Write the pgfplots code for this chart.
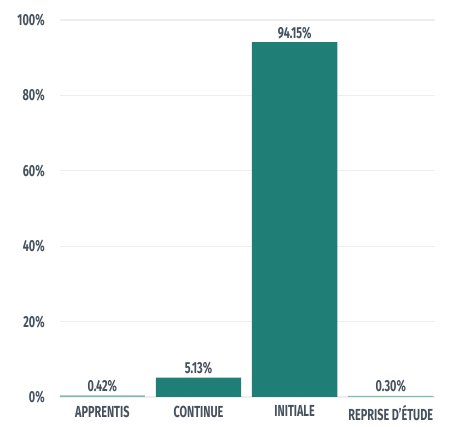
\documentclass[border=0pt]{standalone}
\usepackage{pgfplots}
\pgfplotsset{compat=1.18}
\usepackage{fontspec}
\setmainfont{Fira Sans}[FakeStretch=0.68]
\definecolor{barteal}{HTML}{1F7F76}
\definecolor{lightteal}{HTML}{7FBDB4}
\definecolor{lblgray}{HTML}{46515E}
\definecolor{gridgray}{HTML}{EDEEEF}
\begin{document}
\begin{tikzpicture}
\useasboundingbox (0,0) rectangle (337.5pt,320.25pt);
\begin{axis}[
    at={(45pt,22.5pt)}, anchor=south west,
    scale only axis,
    width=281.25pt, height=282.75pt,
    ybar, bar width=64pt,
    bar shift=0pt,
    xmin=-0.44, xmax=3.46,
    ymin=0, ymax=100,
    xtick={0,1,2,3},
    xticklabels={APPRENTIS, CONTINUE, INITIALE, REPRISE D'ÉTUDE},
    ytick={0,20,40,60,80,100},
    yticklabel={\pgfmathprintnumber{\tick}\%},
    /pgf/number format/assume math mode=true,
    axis line style={draw=none},
    major tick length=0pt,
    ymajorgrids=true,
    grid style={gridgray, line width=0.8pt},
    ticklabel style={font=\bfseries\fontsize{12}{14}\selectfont, text=lblgray},
    xticklabel style={yshift=-3pt},
    yticklabel style={xshift=-8pt},
    nodes near coords={\pgfmathprintnumber[fixed,fixed zerofill,precision=2]{\pgfplotspointmeta}\%},
    nodes near coords style={font=\bfseries\fontsize{12}{14}\selectfont, text=lblgray, yshift=-1pt},
]
\addplot[fill=barteal, draw=none] coordinates {(1,5.13) (2,94.15)};
\addplot[fill=lightteal, draw=none] coordinates {(0,0.42) (3,0.30)};
\end{axis}
\end{tikzpicture}
\end{document}
